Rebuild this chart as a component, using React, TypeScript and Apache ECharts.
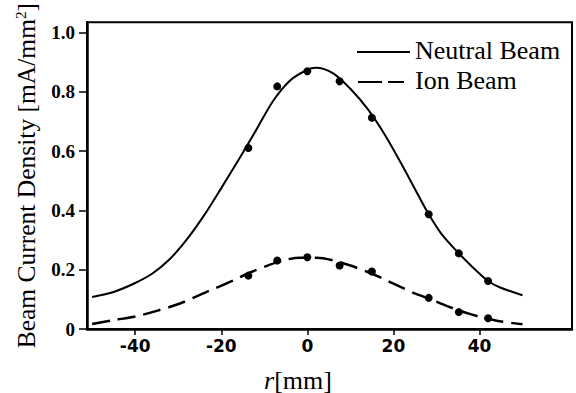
import React, { useEffect, useRef } from "react";
import * as echarts from "echarts";

// Measured data points (r in mm, current density in mA/mm^2)
const pointR = [-13.7, -7, 0, 7.5, 15, 28.2, 35.2, 42];
const neutralPoints = [0.61, 0.818, 0.869, 0.835, 0.712, 0.387, 0.255, 0.162];
const ionPoints = [0.18, 0.231, 0.242, 0.214, 0.194, 0.105, 0.057, 0.036];

// Fitted curves
const neutralFitR = [-50, -45, -40, -36, -32, -28, -24, -20, -16, -12, -8, -4, 0, 2, 6, 10, 14, 18, 22, 26, 28.2, 31.3, 35.2, 38.6, 42, 44.8, 50];
const neutralFit = [0.108, 0.125, 0.155, 0.187, 0.235, 0.302, 0.383, 0.475, 0.57, 0.668, 0.768, 0.838, 0.874, 0.881, 0.862, 0.81, 0.742, 0.655, 0.553, 0.445, 0.387, 0.318, 0.255, 0.206, 0.162, 0.14, 0.114];

const ionFitR = [-50, -45, -40, -35, -29.6, -23.4, -17.2, -13.7, -9.4, -5.5, -1.6, 2.1, 6.1, 10, 13.9, 17.1, 20.9, 24.8, 28.2, 32.5, 37.9, 44, 50];
const ionFit = [0.017, 0.03, 0.042, 0.061, 0.086, 0.125, 0.164, 0.188, 0.213, 0.232, 0.24, 0.24, 0.231, 0.214, 0.193, 0.173, 0.147, 0.121, 0.103, 0.077, 0.05, 0.028, 0.016];

const xTicks = [-40, -20, 0, 20, 40];
const yTicks = [0, 0.2, 0.4, 0.6, 0.8, 1.0];

const legendNames = ["Neutral Beam", "Ion Beam"];

const zip = (xs: number[], ys: number[]) => xs.map((x, i) => [x, ys[i]]);

export default function App() {
  const ref = useRef<HTMLDivElement>(null);
  useEffect(() => {
    if (!ref.current) return;
    const chart = echarts.init(ref.current, null, { renderer: "svg" });
    const serif = "'Liberation Serif', 'Times New Roman', serif";
    chart.setOption({
      animation: false,
      backgroundColor: "#fff",
      grid: { left: 87, right: 4, top: 20, bottom: 64, show: true, borderColor: "#000", borderWidth: 2 },
      xAxis: {
        type: "value",
        min: -51.2,
        max: 61.5,
        axisLine: { show: true, onZero: false, lineStyle: { color: "#000", width: 2.5 } },
        axisTick: { show: true, length: 6, customValues: xTicks, lineStyle: { color: "#000", width: 1.5 } },
        axisLabel: {
          customValues: xTicks,
          fontFamily: "'DejaVu Sans', sans-serif",
          fontWeight: "bold",
          fontSize: 17,
          color: "#000",
          margin: 8,
          formatter: (v: number) => String(v),
        },
        splitLine: { show: false },
      },
      yAxis: {
        type: "value",
        min: 0,
        max: 1.034,
        name: "Beam Current Density [mA/mm{sup|2}]",
        nameLocation: "middle",
        nameGap: 47,
        nameTextStyle: {
          fontFamily: serif,
          fontSize: 25.5,
          color: "#000",
          rich: {
            sup: { fontFamily: serif, fontSize: 15, color: "#000", verticalAlign: "top", padding: [0, 0, 12, 0] },
          },
        },
        axisLine: { show: true, onZero: false, lineStyle: { color: "#000", width: 2.5 } },
        axisTick: { show: true, length: 8, customValues: yTicks, lineStyle: { color: "#000", width: 1.5 } },
        axisLabel: {
          customValues: yTicks,
          fontFamily: serif,
          fontWeight: "bold",
          fontSize: 19,
          color: "#000",
          margin: 12,
          formatter: (v: number) => (v === 0 ? "0" : v.toFixed(1)),
        },
        splitLine: { show: false },
      },
      graphic: [
        { type: "line", shape: { x1: 357, y1: 52, x2: 410, y2: 52 }, style: { stroke: "#000", lineWidth: 2 } },
        { type: "text", x: 415, y: 50, style: { text: legendNames[0], fontFamily: serif, fontSize: 26, fill: "#000", align: "left", verticalAlign: "middle" } },
        { type: "line", shape: { x1: 358, y1: 82, x2: 382, y2: 82 }, style: { stroke: "#000", lineWidth: 2 } },
        { type: "line", shape: { x1: 388, y1: 82, x2: 404, y2: 82 }, style: { stroke: "#000", lineWidth: 2 } },
        { type: "text", x: 415, y: 80, style: { text: legendNames[1], fontFamily: serif, fontSize: 26, fill: "#000", align: "left", verticalAlign: "middle" } },
        {
          type: "text",
          x: 298,
          y: 380,
          style: {
            text: "{i|r}[mm]",
            rich: { i: { fontStyle: "italic", fontFamily: serif, fontSize: 26, fill: "#000" } },
            fontFamily: serif,
            fontSize: 26,
            fill: "#000",
            align: "center",
            verticalAlign: "middle",
          },
        },
      ],
      series: [
        {
          name: legendNames[0],
          type: "line",
          data: zip(neutralFitR, neutralFit),
          showSymbol: false,
          symbol: "none",
          smooth: 0.3,
          lineStyle: { color: "#000", width: 2 },
        },
        {
          name: legendNames[1],
          type: "line",
          data: zip(ionFitR, ionFit),
          showSymbol: false,
          symbol: "none",
          smooth: 0.3,
          lineStyle: { color: "#000", width: 2.5, type: [18, 8] },
        },
        {
          type: "scatter",
          data: zip(pointR, neutralPoints),
          symbolSize: 8,
          itemStyle: { color: "#000", opacity: 1 },
        },
        {
          type: "scatter",
          data: zip(pointR, ionPoints),
          symbolSize: 8,
          itemStyle: { color: "#000", opacity: 1 },
        },
      ],
    });
    return () => chart.dispose();
  }, []);
  return <div ref={ref} style={{ position: "fixed", left: 0, top: 0, width: 576, height: 393 }} />;
}
